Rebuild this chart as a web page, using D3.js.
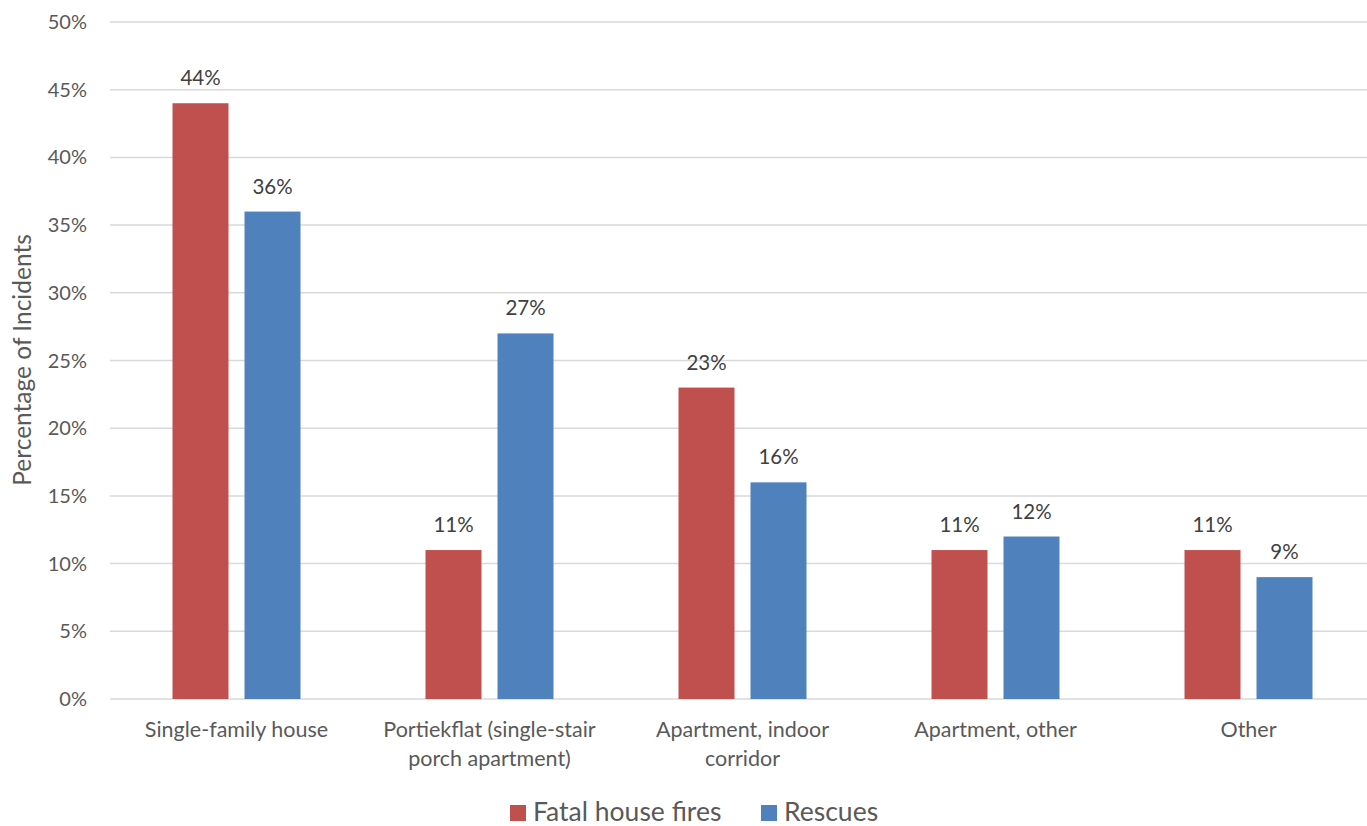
<!DOCTYPE html>
<html><head><meta charset="utf-8">
<script src="https://cdn.jsdelivr.net/npm/d3@7"></script>
<style>body{margin:0;background:#fff}svg{display:block;font-family:Lato,"Open Sans",sans-serif}</style>
</head><body>
<svg id="c" width="1367" height="826"></svg>
<script>
const categories = [["Single-family house"],["Portiekflat (single-stair","porch apartment)"],["Apartment, indoor","corridor"],["Apartment, other"],["Other"]];
const seriesNames = ["Fatal house fires","Rescues"];
const fatal = [44,11,23,11,11];
const rescues = [36,27,16,12,9];
const colors = ["#C0504D","#4F81BD"];
const yTicks = [0,5,10,15,20,25,30,35,40,45,50];

(function(){
const svg = d3.select("#c");
const pLeft=110, pRight=1375, pTop=22, pBottom=699;
const x = d3.scaleBand().domain(d3.range(categories.length)).range([pLeft,pRight]);
const y = d3.scaleLinear().domain([0,50]).range([pBottom,pTop]);
const textCol="#595959";

svg.append("g").selectAll("line").data(yTicks).join("line")
  .attr("x1",pLeft).attr("x2",pRight).attr("y1",d=>y(d)).attr("y2",d=>y(d))
  .attr("stroke","#d9d9d9").attr("stroke-width",1.5);
svg.append("g").selectAll("text").data(yTicks).join("text")
  .attr("x",87).attr("y",d=>y(d)).attr("dy","0.35em").attr("text-anchor","end")
  .attr("font-size",20).attr("fill",textCol).text(d=>d+"%");

svg.append("text").attr("transform","translate(31,360) rotate(-90)").attr("text-anchor","middle")
  .attr("font-size",24.5).attr("fill",textCol).text("Percentage of Incidents");

const barW=56, gap=16;
const data=[fatal,rescues];
data.forEach((vals,s)=>{
  const g=svg.append("g");
  const bx=i=>x(i)+x.bandwidth()/2 + (s===0? -gap/2-barW : gap/2);
  g.selectAll("rect").data(vals).join("rect")
    .attr("x",(d,i)=>bx(i)).attr("width",barW)
    .attr("y",d=>y(d)).attr("height",d=>pBottom-y(d)).attr("fill",colors[s]);
  g.selectAll("text").data(vals).join("text")
    .attr("x",(d,i)=>bx(i)+barW/2).attr("y",d=>y(d)-18).attr("text-anchor","middle")
    .attr("font-size",20.5).attr("fill","#404040").text(d=>d+"%");
});

const cg=svg.append("g");
categories.forEach((lines,i)=>{
  const t=cg.append("text").attr("x",x(i)+x.bandwidth()/2).attr("y",737)
    .attr("text-anchor","middle").attr("font-size",21.5).attr("fill",textCol);
  lines.forEach((l,j)=>t.append("tspan").attr("x",x(i)+x.bandwidth()/2).attr("dy",j===0?0:29).text(l));
});

const lg=svg.append("g");
const legX=[510,761];
seriesNames.forEach((n,s)=>{
  lg.append("rect").attr("x",legX[s]).attr("y",805).attr("width",16).attr("height",16).attr("fill",colors[s]);
  lg.append("text").attr("x",legX[s]+23).attr("y",812).attr("dy","0.35em").attr("font-size",26.5).attr("fill",textCol).text(n);
});
})();
</script>
</body></html>
